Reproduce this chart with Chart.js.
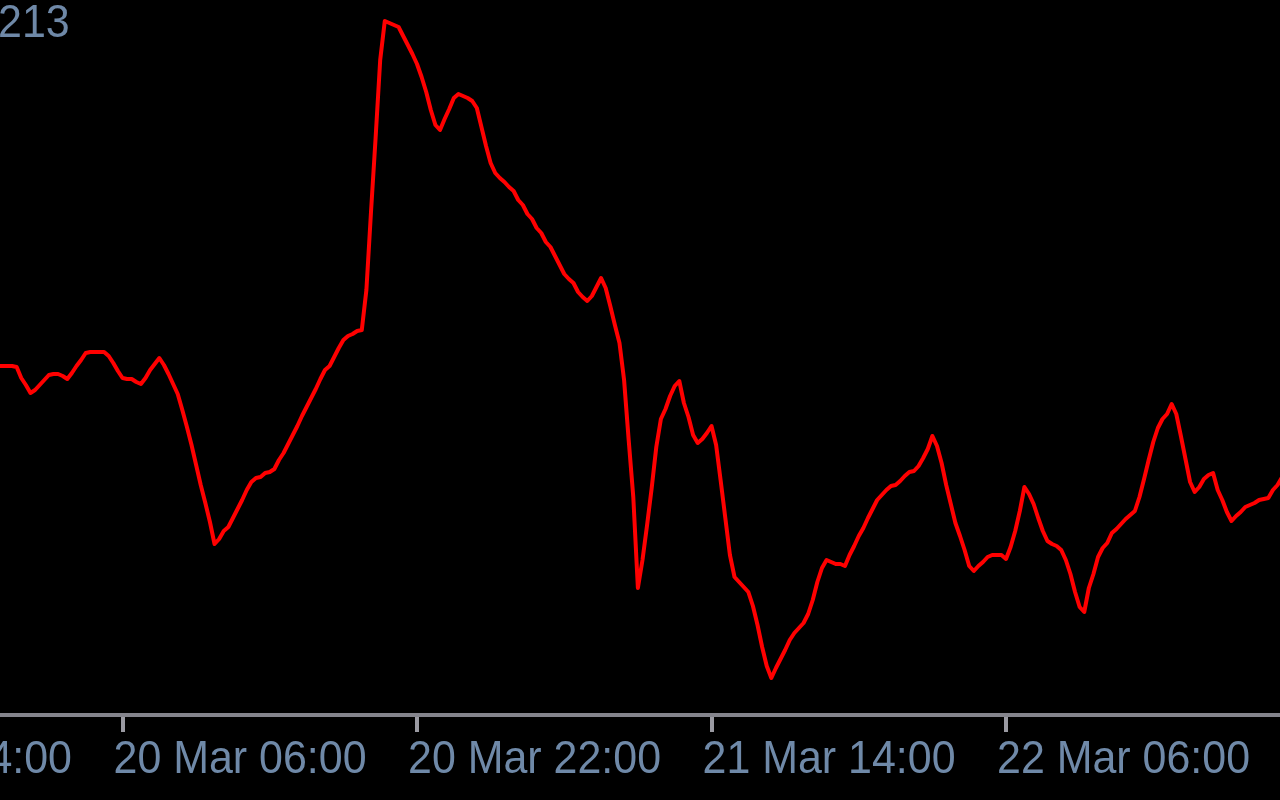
<!DOCTYPE html>
<html>
<head>
<meta charset="utf-8">
<script src="https://cdn.jsdelivr.net/npm/chart.js@4.4.1/dist/chart.umd.min.js"></script>
<style>
    html, body { margin: 0; padding: 0; background: #000; }
    #wrap { width: 1280px; height: 800px; position: relative; }
</style>
</head>
<body>
<div id="wrap"><canvas id="priceChart"></canvas></div>
<script>
// M15 bars, bar 0 = 19 Mar 23:15; values are line heights
const values = [
    349, 349, 349, 349, 348, 337, 330, 322, 325, 330, 335, 340, 341, 341, 339, 336,
    342, 349, 355, 362, 363, 363, 363, 363, 359, 352, 344, 337, 336, 336, 333, 331,
    337, 345, 351, 357, 350, 341, 331, 321, 305, 288, 270, 250, 230, 212, 193, 171,
    176, 184, 188, 197, 206, 215, 225, 233, 237, 238, 242, 243, 246, 255, 262, 271,
    280, 289, 299, 308, 317, 326, 336, 345, 349, 358, 367, 375, 379, 381, 384, 385,
    425, 503, 577, 655, 694, 692, 690, 688, 679, 670, 661, 651, 638, 623, 605, 590,
    585, 596, 606, 617, 621, 619, 617, 614, 607, 588, 569, 552, 542, 537, 533, 528,
    524, 515, 510, 501, 496, 487, 482, 473, 468, 459, 450, 441, 436, 432, 423, 418,
    414, 419, 428, 437, 427, 409, 390, 372, 335, 275, 218, 127, 155, 190, 227, 268,
    296, 306, 319, 329, 334, 312, 298, 280, 272, 276, 282, 289, 270, 234, 197, 160,
    138, 133, 128, 123, 109, 90, 68, 49, 37, 47, 56, 65, 75, 82, 87, 92,
    101, 115, 133, 147, 155, 153, 151, 151, 149, 160, 169, 179, 187, 197, 206, 215,
    220, 225, 229, 230, 234, 239, 243, 244, 249, 257, 266, 279, 269, 252, 230, 211,
    192, 179, 165, 149, 144, 149, 153, 158, 160, 160, 160, 156, 168, 184, 204, 228,
    221, 211, 197, 184, 174, 171, 169, 165, 155, 141, 123, 108, 103, 127, 141, 158,
    167, 172, 182, 186, 191, 196, 200, 204, 218, 236, 255, 273, 287, 296, 301, 311,
    301, 279, 256, 233, 223, 228, 236, 240, 242, 225, 215, 203, 194, 199, 203, 208,
    210, 212, 215, 216, 217, 225, 230, 238, 245
];

// time axis labels and the bar index they sit on (one every 16 hours)
const tickLabels = ['19 Mar 14:00', '20 Mar 06:00', '20 Mar 22:00', '21 Mar 14:00', '22 Mar 06:00'];
const tickBars = [-37, 27, 91, 155, 219];

const priceLabel = '213';

const axisPlugin = {
    id: 'mtAxis',
    afterDraw(chart) {
        const ctx = chart.ctx;
        const xScale = chart.scales.x;
        const axisY = chart.chartArea.bottom;

        ctx.save();
        // axis line
        ctx.fillStyle = '#84848c';
        ctx.fillRect(0, axisY - 2, chart.width, 4);

        // ticks
        ctx.fillStyle = '#9a9aa2';
        tickBars.forEach(bar => {
            const x = Math.round(xScale.getPixelForValue(bar));
            ctx.fillRect(x - 2, axisY + 2, 4, 15);
        });

        // labels, squeezed a little to match the terminal font
        ctx.font = '46px "Liberation Sans", Arial, sans-serif';
        ctx.fillStyle = '#6f89a8';
        ctx.textBaseline = 'alphabetic';
        ctx.textAlign = 'left';
        const sx = 253 / ctx.measureText('20 Mar 06:00').width;

        tickLabels.forEach((label, i) => {
            const x = xScale.getPixelForValue(tickBars[i]) - 9;
            ctx.save();
            ctx.translate(x, 773);
            ctx.scale(sx, 1);
            ctx.fillText(label, 0, 0);
            ctx.restore();
        });

        ctx.save();
        ctx.translate(-2, 37);
        ctx.scale(sx, 1);
        ctx.fillText(priceLabel, 0, 0);
        ctx.restore();

        ctx.restore();
    }
};

const priceChart = new Chart(document.getElementById('priceChart').getContext('2d'), {
    type: 'line',
    data: {
        datasets: [{
            label: 'Close',
            data: values.map((v, i) => ({ x: i, y: v })),
            borderColor: '#ff0000',
            borderWidth: 4,
            borderJoinStyle: 'round',
            pointRadius: 0,
            tension: 0,
            fill: false
        }]
    },
    options: {
        responsive: true,
        maintainAspectRatio: false,
        animation: false,
        layout: { padding: { left: 0, right: 0, top: 0, bottom: 85 } },
        plugins: {
            legend: { display: false },
            tooltip: { enabled: false }
        },
        scales: {
            x: { type: 'linear', display: false, min: 0.378, max: 278.54 },
            y: { display: false, min: 0, max: 715 }
        }
    },
    plugins: [axisPlugin]
});
</script>
</body>
</html>
